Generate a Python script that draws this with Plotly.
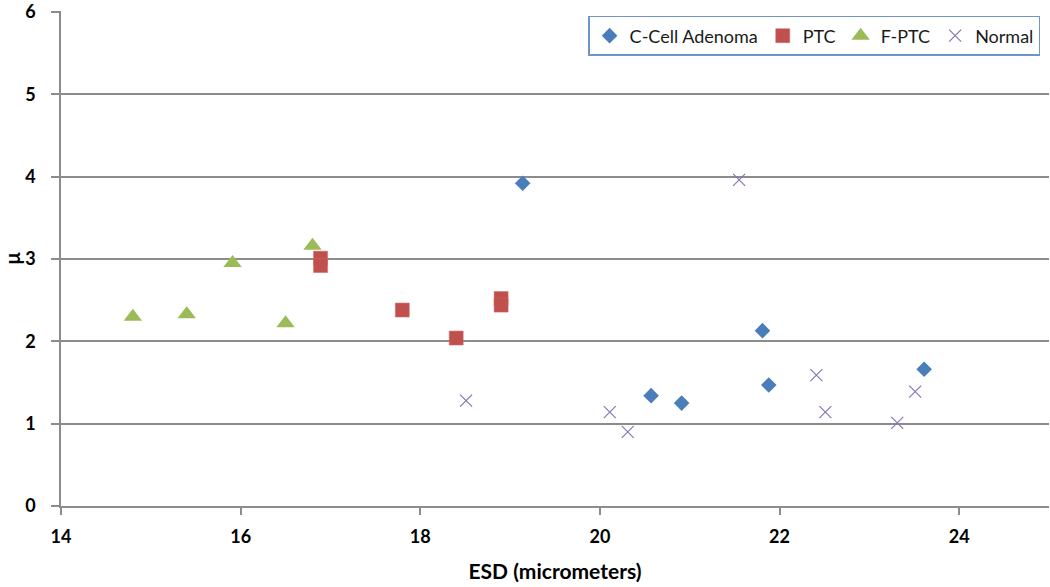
import plotly.graph_objects as go

# C-Cell Adenoma
ccell_x = [19.14, 20.57, 20.91, 21.81, 21.88, 23.61]
ccell_y = [3.92, 1.34, 1.25, 2.13, 1.47, 1.66]
# PTC
ptc_x = [16.89, 16.89, 17.80, 18.40, 18.90, 18.90]
ptc_y = [3.01, 2.92, 2.38, 2.04, 2.52, 2.44]
# F-PTC
fptc_x = [14.80, 15.40, 15.91, 16.50, 16.80]
fptc_y = [2.30, 2.33, 2.95, 2.22, 3.16]
# Normal
normal_x = [18.51, 20.11, 20.31, 21.55, 22.41, 22.51, 23.31, 23.51]
normal_y = [1.28, 1.14, 0.90, 3.96, 1.59, 1.14, 1.01, 1.39]

x_ticks = [14, 16, 18, 20, 22, 24]
y_ticks = [0, 1, 2, 3, 4, 5, 6]

fig = go.Figure()
fig.add_trace(go.Scatter(x=ccell_x, y=ccell_y, mode="markers", name="C-Cell Adenoma",
                         marker=dict(symbol="diamond", size=12, color="#4A7EBB")))
fig.add_trace(go.Scatter(x=ptc_x, y=ptc_y, mode="markers", name="PTC",
                         marker=dict(symbol="square", size=14, color="#C0504D",
                                     line=dict(color="#D46A67", width=0.5))))
fig.add_trace(go.Scatter(x=fptc_x, y=fptc_y, mode="markers", name="F-PTC",
                         marker=dict(symbol="triangle-up", size=16, color="#9BBB59")))
fig.add_trace(go.Scatter(x=normal_x, y=normal_y, mode="markers", name="Normal",
                         marker=dict(symbol="x-thin", size=12, color="#8B75B5",
                                     line=dict(color="#8B75B5", width=1.2))))

fig.update_layout(
    width=1050, height=587,
    margin=dict(l=61, r=1, t=11, b=81),
    paper_bgcolor="white", plot_bgcolor="white",
    font=dict(family="Lato, 'Open Sans', sans-serif", color="#000000"),
    showlegend=True,
    legend=dict(orientation="h", x=0.991, xanchor="right", y=0.99, yanchor="top",
                bgcolor="white", bordercolor="#6F94C8", borderwidth=1.5,
                font=dict(size=18, color="#1a1a1a"), itemwidth=30,
                traceorder="normal"),
    xaxis=dict(range=[14, 25], tickvals=x_ticks, ticktext=[str(v) for v in x_ticks],
               showgrid=False, zeroline=False, showline=True, linecolor="#8C8C8C",
               linewidth=1.5, ticks="outside", ticklen=7, tickcolor="#8C8C8C",
               tickwidth=1.5, ticklabelstandoff=7, automargin=False,
               tickfont=dict(size=18, family="Lato", weight="bold"),
               title=dict(text="<b>ESD (micrometers)</b>", font=dict(size=21, family="Lato"),
                          standoff=18)),
    yaxis=dict(range=[0, 6.012], tickvals=y_ticks, showgrid=True, gridcolor="#8C8C8C",
               gridwidth=1.5, zeroline=False, showline=True, linecolor="#8C8C8C",
               linewidth=1.5, ticks="outside", ticklen=8, tickcolor="#8C8C8C",
               tickwidth=1.5, ticklabelstandoff=12, automargin=False,
               ticklabeloverflow="allow",
               tickfont=dict(size=18, family="Lato", weight="bold"),
               title=dict(text="<b>μ</b>", font=dict(size=20, family="Lato"), standoff=6)),
)

fig.write_html("out.html", config={"displayModeBar": False},
               post_script="document.body.style.margin='0';")
